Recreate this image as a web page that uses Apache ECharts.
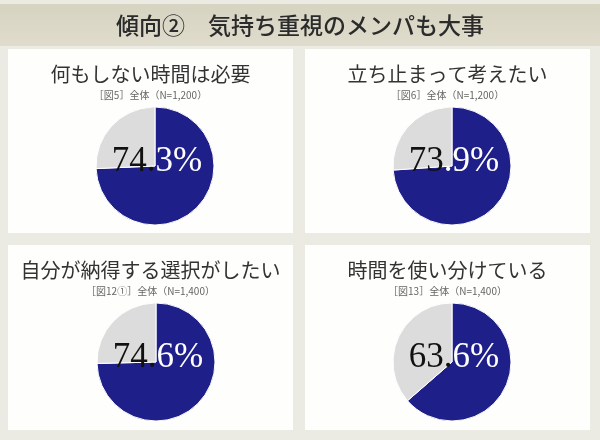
<!DOCTYPE html>
<html><head><meta charset="utf-8">
<script src="https://cdn.jsdelivr.net/npm/echarts@6/dist/echarts.min.js"></script>
<style>html,body{margin:0;padding:0;background:#ecebe3;}#c{width:600px;height:440px;}</style>
</head><body><div id="c"></div>
<script>
var mainTitle = '傾向②　気持ち重視のメンパも大事';
var titles = ['何もしない時間は必要', '立ち止まって考えたい', '自分が納得する選択がしたい', '時間を使い分けている'];
var subtitles = ['［図5］全体（N=1,200）', '［図6］全体（N=1,200）', '［図12①］全体（N=1,400）', '［図13］全体（N=1,400）'];
var yesValues = [74.3, 73.9, 74.6, 63.6];
var blackChars = [3, 2, 3, 3];

var panels = [[8,49,285,184],[305,49,285,184],[8,245,285,185],[305,245,285,185]];
var centers = [[155,166],[452,166],[156,362],[452,362]];
var CJK = '"Noto Sans CJK JP", "Noto Sans", sans-serif';

var graphic = [
  {type:'rect', shape:{x:0,y:0,width:600,height:440}, style:{fill:'#ecebe3'}, z:-10},
  {type:'rect', shape:{x:0,y:4,width:600,height:42}, style:{fill:new echarts.graphic.LinearGradient(0,0,0,1,[{offset:0,color:'#d6d3c1'},{offset:1,color:'#dfdccd'}])}, z:-9},
  {type:'text', x:300, y:25, style:{text:mainTitle, font:'500 23px ' + CJK, fill:'#2b2b2b', textAlign:'center', textVerticalAlign:'middle'}}
];
var series = [];
panels.forEach(function(p, i){
  graphic.push({type:'rect', shape:{x:p[0],y:p[1],width:p[2],height:p[3]}, style:{fill:'#fefefc'}, z:-8});
  var cx = p[0] + p[2]/2;
  graphic.push({type:'text', x:cx, y:p[1]+25, style:{text:titles[i], font:'400 20px ' + CJK, fill:'#333333', textAlign:'center', textVerticalAlign:'middle'}});
  graphic.push({type:'text', x:cx, y:p[1]+46, style:{text:subtitles[i], font:'400 10px ' + CJK, fill:'#666666', textAlign:'center', textVerticalAlign:'middle'}});
  var v = yesValues[i];
  var s = v.toFixed(1) + '%';
  var k = blackChars[i];
  series.push({
    type:'pie', center:centers[i], radius:[0,59], startAngle:90, clockwise:true,
    silent:true, animation:false,
    itemStyle:{borderColor:'#ffffff', borderWidth:1},
    label:{show:false},
    labelLine:{show:false},
    data:[
      {value:v, name:'yes', itemStyle:{color:'#1f1f8a'},
        label:{show:true, position:'center', offset:[2,-4],
          formatter:'{a|' + s.slice(0,k) + '}{b|' + s.slice(k) + '}',
          rich:{
            a:{color:'#111111', fontFamily:'"Liberation Serif", serif', fontSize:35},
            b:{color:'#ffffff', fontFamily:'"Liberation Serif", serif', fontSize:35}
          }}},
      {value:+(100 - v).toFixed(1), name:'no', itemStyle:{color:'#dcdcdc'}}
    ]
  });
});
var chart = echarts.init(document.getElementById('c'));
chart.setOption({backgroundColor:'#ecebe3', graphic:graphic, series:series});
</script></body></html>
